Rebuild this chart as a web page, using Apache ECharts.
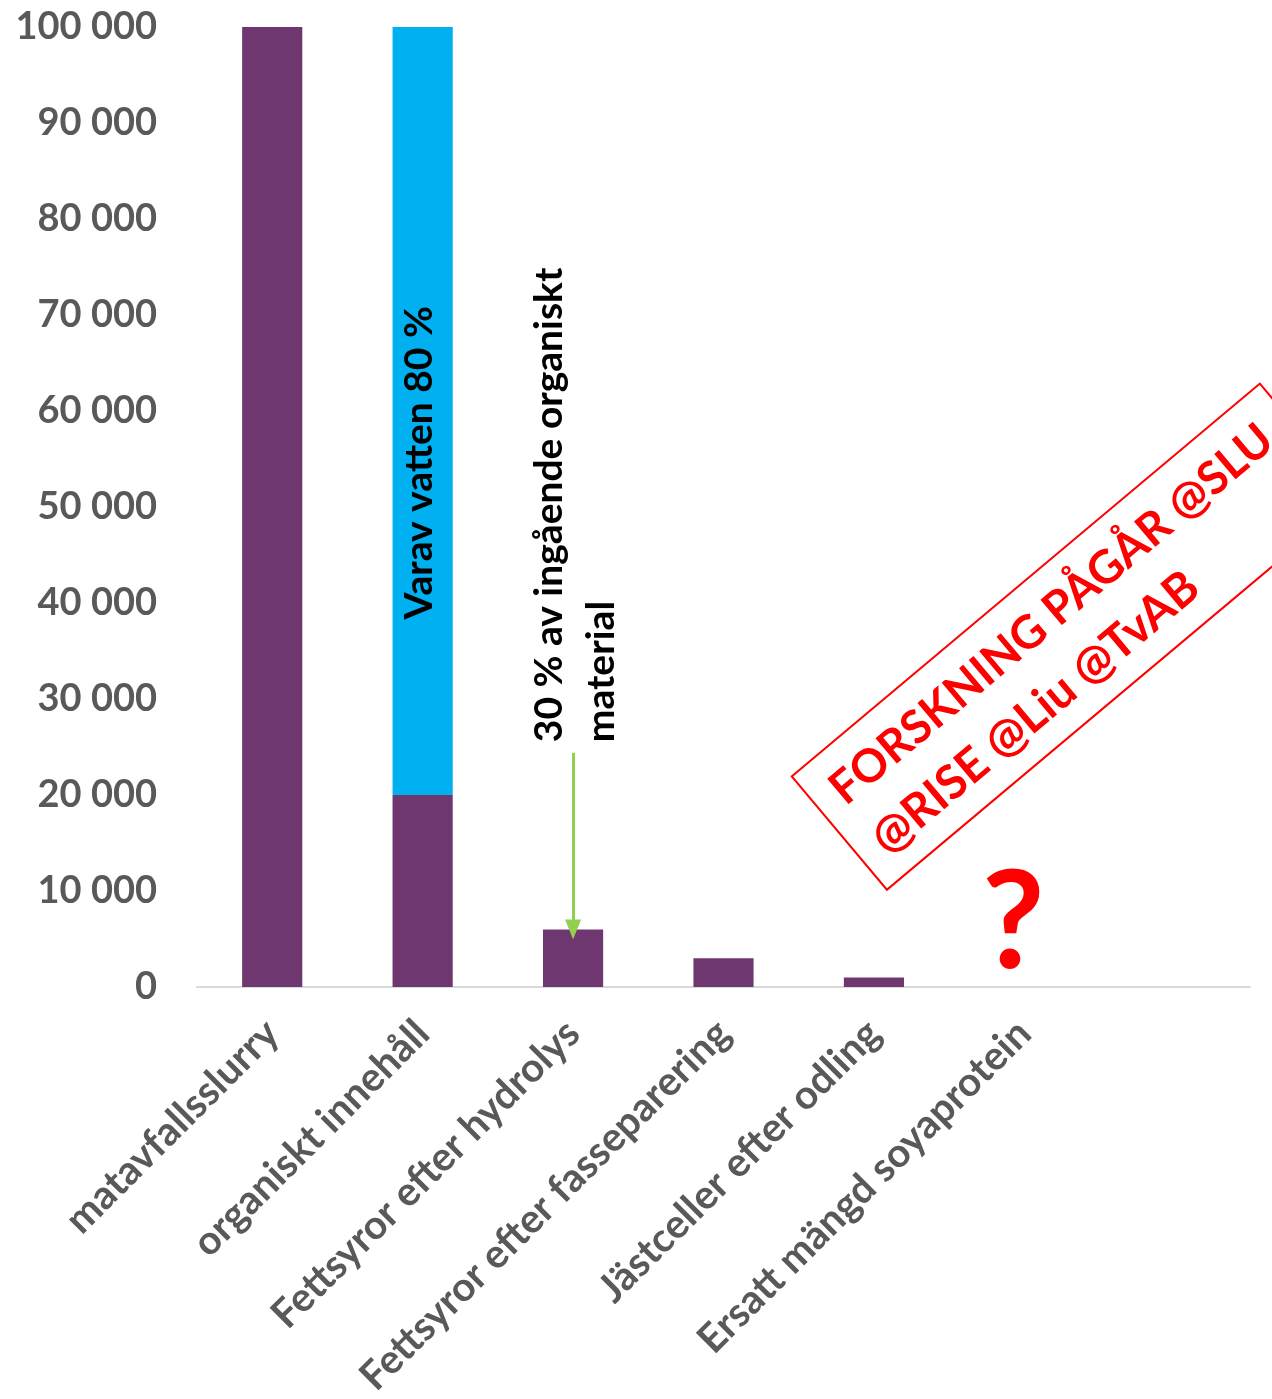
<!DOCTYPE html>
<html>
<head>
<meta charset="utf-8">
<script src="https://cdn.jsdelivr.net/npm/echarts@6/dist/echarts.min.js"></script>
<style>
html,body{margin:0;padding:0;background:#fff;}
#c{width:1272px;height:1399px;}
</style>
</head>
<body>
<div id="c"></div>
<script>
const categories = ['matavfallsslurry','organiskt innehåll','Fettsyror efter hydrolys','Fettsyror efter fasseparering','Jästceller efter odling','Ersatt mängd soyaprotein',''];
const organicValues = [100000, 20000, 6000, 3000, 1000, null, null];
const waterValues = [null, 80000, null, null, null, null, null];
const arrowFrom = 24400;
const arrowTo = 6000;

const FONT = 'Lato';
const chart = echarts.init(document.getElementById('c'), null, {renderer:'canvas'});
function fmt(v){ return String(v).replace(/\B(?=(\d{3})+(?!\d))/g, ' '); }

chart.setOption({
  animation:false,
  backgroundColor:'#fff',
  grid:{left:197, right:22, top:27, bottom:412, containLabel:false, outerBoundsMode:'none'},
  xAxis:{
    type:'category', data:categories,
    axisLine:{lineStyle:{color:'#D9D9D9', width:2}},
    axisTick:{show:false},
    axisLabel:{rotate:45, interval:0, color:'#595959', fontFamily:FONT, fontWeight:'bold', fontSize:40, margin:40}
  },
  yAxis:{
    type:'value', min:0, max:100000, interval:10000,
    splitLine:{show:false}, axisLine:{show:false}, axisTick:{show:false},
    axisLabel:{formatter:fmt, color:'#595959', fontFamily:FONT, fontWeight:'bold', fontSize:38, margin:40}
  },
  series:[
    {type:'bar', stack:'s', data:organicValues, barWidth:'40%', itemStyle:{color:'#6F3770'},
     markLine:{silent:true, symbol:['none','triangle'], symbolSize:[16,20],
       lineStyle:{color:'#92D050', width:3, type:'solid'}, label:{show:false},
       data:[[{coord:[categories[2], arrowFrom]},{coord:[categories[2], arrowTo]}]]}},
    {type:'bar', stack:'s', data:waterValues, barWidth:'40%', itemStyle:{color:'#00B0F0'}}
  ]
});

function px(cat, val){ return chart.convertToPixel({gridIndex:0}, [cat, val]); }
const pWater = px(categories[1], 54600);
const pNote = px(categories[2], 25500);
const pQ = px(categories[5], 0);

chart.setOption({
  graphic:[
    {type:'text', z:100, x:pWater[0]-3, y:pWater[1], rotation:Math.PI/2,
     style:{text:'Varav vatten 80 %', fill:'#000', font:'bold 39px '+FONT, align:'center', verticalAlign:'middle'}},
    {type:'text', z:100, x:pNote[0]+2, y:pNote[1], rotation:Math.PI/2,
     style:{text:'30 % av ingående organiskt\nmaterial', fill:'#000', font:'bold 39px '+FONT, align:'left', verticalAlign:'middle', lineHeight:52}},
    {type:'text', z:100, x:pQ[0]-11, y:pQ[1]+5,
     style:{text:'?', fill:'#FF0000', font:'bold 136px '+FONT, align:'center', verticalAlign:'bottom',
            shadowColor:'rgba(0,0,0,0.35)', shadowBlur:4, shadowOffsetX:2, shadowOffsetY:2}},
    {type:'group', z:100, x:1073, y:637, rotation:40*Math.PI/180, children:[
      {type:'rect', shape:{x:-305, y:-74, width:611, height:148}, style:{fill:'none', stroke:'#FF0000', lineWidth:2}},
      {type:'text', x:-283, y:-31, style:{text:'FORSKNING PÅGÅR @SLU', fill:'#FF0000', font:'bold 46px '+FONT, align:'left', verticalAlign:'middle'}},
      {type:'text', x:-283, y:34, style:{text:'@RISE @Liu @TvAB', fill:'#FF0000', font:'bold 47px '+FONT, align:'left', verticalAlign:'middle'}}
    ]}
  ]
});
</script>
</body>
</html>
